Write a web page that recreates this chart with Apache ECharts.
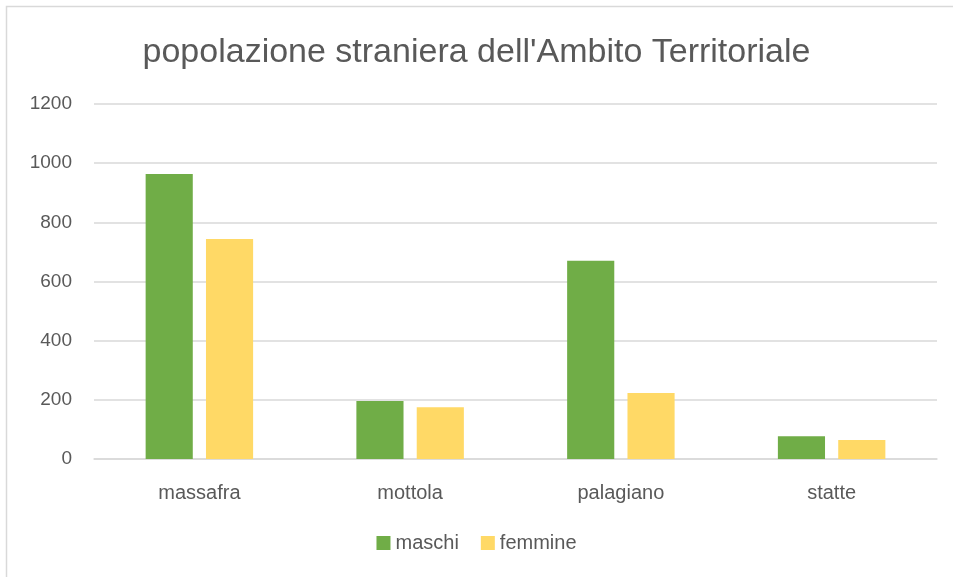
<!DOCTYPE html>
<html lang="it">
<head>
    <meta charset="UTF-8">
    <title>popolazione straniera</title>
    <script src="https://cdn.jsdelivr.net/npm/echarts@6/dist/echarts.min.js"></script>
    <style>
        html, body { margin: 0; padding: 0; background: #fff; }
        #main { width: 953px; height: 577px; }
    </style>
</head>
<body>
<div id="main"></div>
<script>
    // dati
    var comuni = ['massafra', 'mottola', 'palagiano', 'statte'];
    var maschi = [963, 196, 670, 77];
    var femmine = [744, 175, 223, 64];
    var yTicks = [0, 200, 400, 600, 800, 1000, 1200];

    var grigio = '#595959';
    var myChart = echarts.init(document.getElementById('main'));
    var option = {
        textStyle: { fontFamily: 'Liberation Sans' },
        // bordo dell'area del grafico
        graphic: [{
            type: 'rect',
            shape: { x: 6.5, y: 6.5, width: 960, height: 600 },
            style: { fill: 'none', stroke: '#d9d9d9', lineWidth: 1.5 },
            silent: true
        }],
        title: {
            text: "popolazione straniera dell'Ambito Territoriale",
            left: 'center',
            top: 31,
            textStyle: { color: grigio, fontSize: 34, fontWeight: 'normal' }
        },
        legend: {
            bottom: 19,
            left: 'center',
            itemWidth: 14,
            itemHeight: 14,
            itemGap: 22,
            itemTextGap: 6,
            icon: 'rect',
            textStyle: { color: grigio, fontSize: 20 },
            data: ['maschi', 'femmine']
        },
        grid: { left: 94, right: 16, top: 104, bottom: 118 },
        xAxis: {
            type: 'category',
            data: comuni,
            axisTick: { show: false },
            axisLine: { lineStyle: { color: '#d9d9d9', width: 1.5 } },
            axisLabel: { color: grigio, fontSize: 20, margin: 24 }
        },
        yAxis: {
            type: 'value',
            min: yTicks[0],
            max: yTicks[yTicks.length - 1],
            interval: 200,
            axisLabel: {
                color: grigio, fontSize: 19, margin: 22,
                formatter: function (v) { return String(v); }
            },
            splitLine: { lineStyle: { color: '#d9d9d9', width: 1.5 } }
        },
        series: [
            {
                name: 'maschi',
                type: 'bar',
                data: maschi,
                barGap: '28%',
                barCategoryGap: '49%',
                itemStyle: { color: '#70ad47' }
            },
            {
                name: 'femmine',
                type: 'bar',
                data: femmine,
                itemStyle: { color: '#ffd966' }
            }
        ]
    };
    myChart.setOption(option);
</script>
</body>
</html>
